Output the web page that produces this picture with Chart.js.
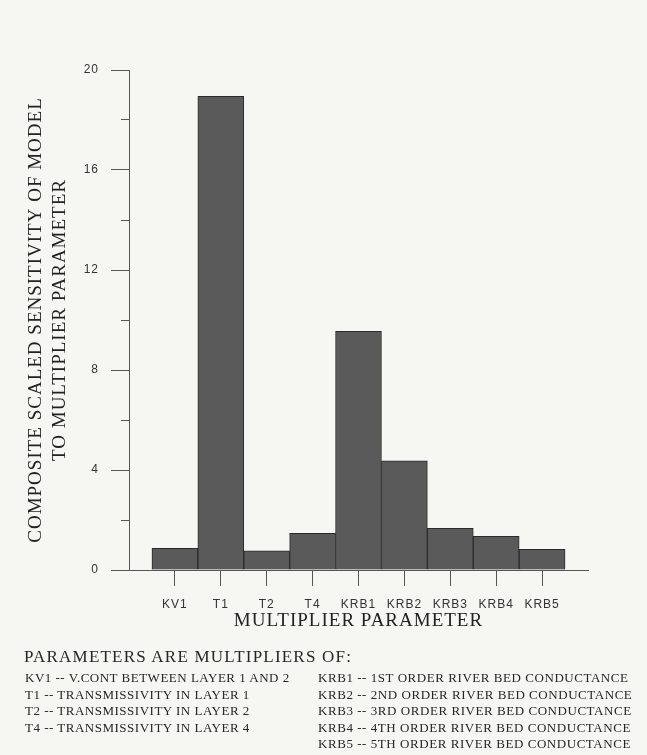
<!DOCTYPE html>
<html>
<head>
<meta charset="utf-8">
<script src="https://cdn.jsdelivr.net/npm/chart.js@4.4.1/dist/chart.umd.min.js"></script>
<style>
  html, body { margin: 0; padding: 0; background: #f6f6f3; }
  #wrap { position: relative; width: 647px; height: 755px; overflow: hidden; }
  #chart { position: absolute; left: 0; top: 0; }
  .notes { position: absolute; font-family: "Liberation Serif", "Times New Roman", serif; color: #262626; white-space: nowrap; }
  .head { left: 24px; top: 647px; font-size: 17px; line-height: 20px; letter-spacing: 1.2px; }
  .col { top: 670px; font-size: 13px; line-height: 16.6px; letter-spacing: 0.5px; }
  .col.left { left: 25px; }
  .col.right { left: 318px; letter-spacing: 0.55px; }
</style>
</head>
<body>
<div id="wrap">
  <canvas id="chart" width="647" height="755"></canvas>
  <div class="notes head">PARAMETERS ARE MULTIPLIERS OF:</div>
  <div class="notes col left" id="noteLeft"></div>
  <div class="notes col right" id="noteRight"></div>
</div>
<script>
// categories and values
const categories = ['KV1', 'T1', 'T2', 'T4', 'KRB1', 'KRB2', 'KRB3', 'KRB4', 'KRB5'];
const sensitivity = [0.87, 18.95, 0.77, 1.47, 9.55, 4.37, 1.67, 1.35, 0.83];
const yMajorTicks = [0, 4, 8, 12, 16, 20];
const yMinorStep = 2;

const yTitle = ['COMPOSITE SCALED SENSITIVITY OF MODEL', 'TO MULTIPLIER PARAMETER'];
const xTitle = 'MULTIPLIER PARAMETER';

const noteLeft = [
  'KV1 -- V.CONT BETWEEN LAYER 1 AND 2',
  'T1 -- TRANSMISSIVITY IN LAYER 1',
  'T2 -- TRANSMISSIVITY IN LAYER 2',
  'T4 -- TRANSMISSIVITY IN LAYER 4'
];
const noteRight = [
  'KRB1 -- 1ST ORDER RIVER BED CONDUCTANCE',
  'KRB2 -- 2ND ORDER RIVER BED CONDUCTANCE',
  'KRB3 -- 3RD ORDER RIVER BED CONDUCTANCE',
  'KRB4 -- 4TH ORDER RIVER BED CONDUCTANCE',
  'KRB5 -- 5TH ORDER RIVER BED CONDUCTANCE'
];

document.getElementById('noteLeft').innerHTML = noteLeft.join('<br>');
document.getElementById('noteRight').innerHTML = noteRight.join('<br>');

const serif = '"Liberation Serif", "Times New Roman", serif';
const sans = '"Liberation Sans", Arial, sans-serif';
const axisColor = '#555';

// spaced-out lettering like the original print
const spacing = {
  id: 'spacing',
  beforeDraw(chart) { chart.ctx.letterSpacing = '1px'; }
};

new Chart(document.getElementById('chart'), {
  type: 'bar',
  data: {
    datasets: [{
      data: categories.map((c, i) => ({ x: i + 1, y: sensitivity[i] })),
      backgroundColor: '#5a5a5a',
      borderColor: '#2a2a2a',
      borderWidth: 1,
      barPercentage: 1,
      categoryPercentage: 1,
      yAxisID: 'y'
    }]
  },
  options: {
    responsive: false,
    animation: false,
    layout: { padding: { left: 0, top: 70, right: 59, bottom: 115 } },
    plugins: { legend: { display: false }, tooltip: { enabled: false } },
    scales: {
      x: {
        type: 'linear',
        offset: false,
        min: 0,
        max: categories.length + 1,
        afterBuildTicks: s => {
          s.ticks = categories.map((c, i) => ({ value: i + 1 }));
        },
        afterFit: s => { s.height = 70; },
        ticks: {
          stepSize: 1,
          padding: 11,
          color: '#333',
          font: { family: sans, size: 12 },
          callback: v => categories[v - 1] || ''
        },
        grid: { offset: false, drawOnChartArea: false, tickLength: 16, tickColor: axisColor },
        border: { color: axisColor },
        title: {
          display: true,
          text: xTitle,
          color: '#222',
          font: { family: serif, size: 19, lineHeight: '22px' },
          padding: { top: 0, bottom: 8 }
        }
      },
      y: {
        position: 'left',
        weight: 1,
        min: 0,
        max: 20,
        afterBuildTicks: s => { s.ticks = yMajorTicks.map(v => ({ value: v })); },
        afterFit: s => { s.width = 129; },
        ticks: { padding: 12, color: '#333', font: { family: sans, size: 12 } },
        grid: { drawOnChartArea: false, tickLength: 18, tickColor: axisColor },
        border: { color: axisColor },
        title: {
          display: true,
          text: yTitle,
          color: '#222',
          font: { family: serif, size: 19, lineHeight: '24px' },
          padding: { top: 24, bottom: 0 }
        }
      },
      yMinor: {
        position: 'left',
        weight: 0,
        display: true,
        min: 0,
        max: 20,
        afterFit: s => { s.width = 0; },
        ticks: { stepSize: yMinorStep, display: false },
        grid: { drawOnChartArea: false, tickLength: 8, tickColor: axisColor },
        border: { color: axisColor }
      }
    }
  },
  plugins: [spacing]
});
</script>
</body>
</html>
